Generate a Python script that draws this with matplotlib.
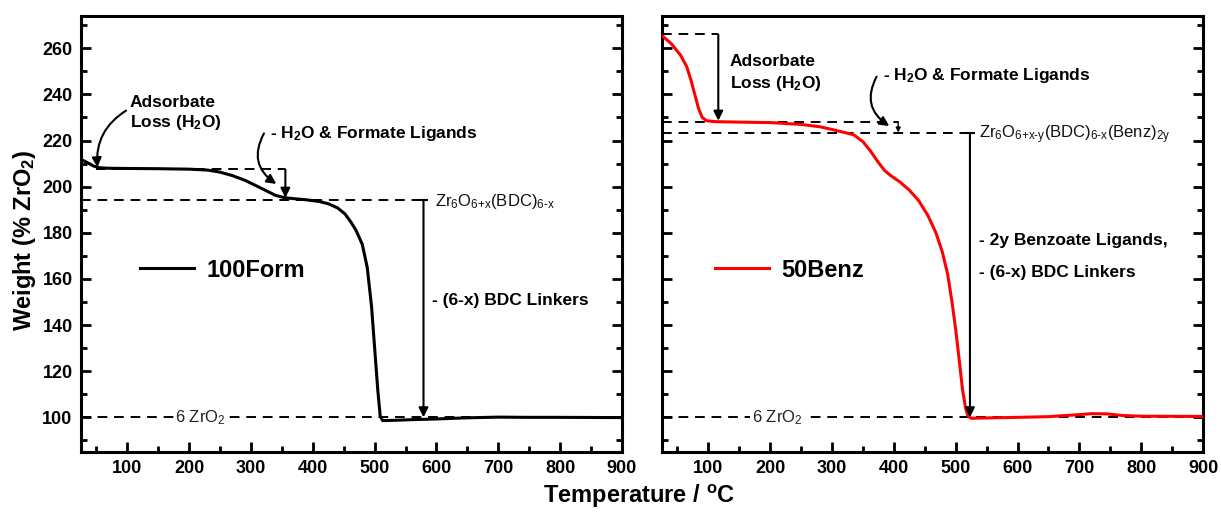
import matplotlib

matplotlib.use("Agg")
import matplotlib.pyplot as plt
from matplotlib.ticker import MultipleLocator

plt.rcParams["font.family"] = "Liberation Sans"
plt.rcParams["mathtext.default"] = "regular"
plt.rcParams["mathtext.fontset"] = "custom"
plt.rcParams["mathtext.rm"] = "Liberation Sans"

# 100Form TGA trace (temperature in C, weight in % ZrO2)
form_t = [25, 35, 45, 55, 70, 100, 150, 200, 230, 250, 270, 290, 310, 325, 340,
          355, 370, 390, 410, 425, 440, 452, 462, 470, 480, 488, 495, 500, 505,
          509, 513, 530, 560, 600, 650, 700, 750, 800, 900]
form_w = [211.8, 210.5, 209.0, 208.2, 208.0, 207.9, 207.8, 207.6, 207.2, 206.3,
          204.8, 202.8, 200.2, 198.2, 196.2, 195.2, 194.8, 194.3, 193.6, 192.6,
          190.8, 188.2, 184.5, 181.0, 175.0, 165.0, 148.0, 130.0, 112.0, 100.5,
          98.6, 98.7, 99.0, 99.3, 99.8, 100.1, 100.0, 100.0, 99.9]

# 50Benz TGA trace
benz_t = [25, 40, 55, 65, 72, 78, 84, 90, 97, 110, 150, 200, 250, 280, 300, 320,
          335, 350, 362, 375, 385, 395, 410, 425, 440, 455, 468, 478, 487, 494,
          500, 506, 511, 516, 520, 525, 540, 600, 650, 690, 720, 745, 770, 800, 900]
benz_w = [265.5, 262.0, 257.0, 252.0, 246.0, 240.0, 234.0, 230.0, 228.6, 228.2,
          228.0, 227.8, 227.0, 226.0, 224.8, 223.5, 222.5, 219.5, 215.5, 210.5,
          207.0, 204.8, 202.0, 198.5, 194.0, 187.5, 180.0, 172.0, 162.0, 150.0,
          138.0, 124.0, 112.0, 104.0, 100.5, 99.6, 99.7, 100.0, 100.3, 101.0,
          101.6, 101.5, 100.8, 100.5, 100.4]

XLIM = (25, 900)
YLIM = (85, 274)
ZRO2 = 100

DASH = dict(color="black", lw=1.4, ls=(0, (5, 3.5)))
ARROW = dict(arrowstyle="-|>", color="black", lw=1.5, mutation_scale=14,
             shrinkA=0, shrinkB=0)


def style_axes(ax, show_ylabels):
    ax.set_xlim(*XLIM)
    ax.set_ylim(*YLIM)
    ax.xaxis.set_major_locator(MultipleLocator(100))
    ax.xaxis.set_minor_locator(MultipleLocator(50))
    ax.yaxis.set_major_locator(MultipleLocator(20))
    ax.yaxis.set_minor_locator(MultipleLocator(10))
    ax.tick_params(which="both", direction="in", width=2, left=True, right=True,
                   top=False, bottom=True, labelleft=show_ylabels)
    ax.tick_params(which="major", length=7, labelsize=13, pad=6)
    ax.tick_params(which="minor", length=4)
    for lbl in ax.get_xticklabels() + ax.get_yticklabels():
        lbl.set_fontweight("bold")
    for sp in ax.spines.values():
        sp.set_linewidth(2.2)


fig = plt.figure(figsize=(12.21, 5.13), dpi=100)
ax1 = fig.add_axes([0.0663, 0.119, 0.4431, 0.8498])
ax2 = fig.add_axes([0.5422, 0.119, 0.4431, 0.8498])

# ---------------- left panel: 100Form ----------------
ax1.plot(form_t, form_w, color="black", lw=2.2, label="100Form")
style_axes(ax1, True)

ax1.plot([25, 900], [ZRO2, ZRO2], **DASH)
ax1.text(218, ZRO2, "6 ZrO$_2$", fontsize=12, ha="center", va="center",
         color="#222222", bbox=dict(fc="white", ec="none", pad=1))

ax1.plot([49, 355.6], [207.5, 207.5], **DASH)
ax1.annotate("", xy=(355.6, 195.2), xytext=(355.6, 207.5), arrowprops=ARROW)
ax1.plot([25, 572], [194.2, 194.2], **DASH)
ax1.annotate("", xy=(579, ZRO2), xytext=(579, 194.2), arrowprops=ARROW)
ax1.plot([579], [194.2], marker="_", ms=7, mew=1.5, color="black")

ax1.text(104, 236.7, "Adsorbate", fontsize=12.5, fontweight="bold", va="center")
ax1.text(104, 228.0, "Loss (H$_2$O)", fontsize=12.5, fontweight="bold", va="center")
ax1.annotate("", xy=(51.7, 208.4), xytext=(98, 233),
             arrowprops=dict(ARROW, connectionstyle="arc3,rad=0.3"))
ax1.text(330, 223.1, "- H$_2$O & Formate Ligands", fontsize=12.5,
         fontweight="bold", va="center")
ax1.annotate("", xy=(341, 201.2), xytext=(321, 223.1),
             arrowprops=dict(ARROW, connectionstyle="arc3,rad=0.45"))
ax1.text(598, 193.5, r"Zr$_6$O$_{\text{6+x}}$(BDC)$_{\text{6-x}}$", fontsize=12,
         va="center", color="#111111")
ax1.text(592, 150.8, "- (6-x) BDC Linkers", fontsize=12.5, fontweight="bold",
         va="center")
ax1.legend(loc="center left", bbox_to_anchor=(0.109, 0.417), frameon=False,
           borderaxespad=0, borderpad=0, handlelength=2.3, handletextpad=0.5,
           prop=dict(size=17, weight="bold"))

# ---------------- right panel: 50Benz ----------------
ax2.plot(benz_t, benz_w, color="red", lw=2.2, label="50Benz", zorder=3)
style_axes(ax2, False)

ax2.plot([25, 900], [ZRO2, ZRO2], **DASH)
ax2.text(211, ZRO2, "6 ZrO$_2$", fontsize=12, ha="center", va="center",
         color="#222222", bbox=dict(fc="white", ec="none", pad=1))

ax2.plot([25, 116], [266, 266], **DASH)
ax2.annotate("", xy=(116, 228.6), xytext=(116, 266), arrowprops=ARROW)
ax2.plot([25, 407], [228.2, 228.2], **DASH)
ax2.annotate("", xy=(407, 223.5), xytext=(407, 228.2),
             arrowprops=dict(ARROW, mutation_scale=7, lw=1.0))
ax2.plot([25, 520], [223.2, 223.2], **DASH)
ax2.annotate("", xy=(523, ZRO2), xytext=(523, 223.2), arrowprops=ARROW)
ax2.plot([523], [223.2], marker="_", ms=7, mew=1.5, color="black")

ax2.text(135, 254.2, "Adsorbate", fontsize=12.5, fontweight="bold", va="center")
ax2.text(135, 244.8, "Loss (H$_2$O)", fontsize=12.5, fontweight="bold", va="center")
ax2.text(383, 248.4, "- H$_2$O & Formate Ligands", fontsize=12.5,
         fontweight="bold", va="center")
ax2.annotate("", xy=(392.5, 226.3), xytext=(372, 247.7),
             arrowprops=dict(ARROW, connectionstyle="arc3,rad=0.45"))
ax2.text(537, 222.5,
         r"Zr$_6$O$_{\text{6+x-y}}$(BDC)$_{\text{6-x}}$(Benz)$_{\text{2y}}$",
         fontsize=12, va="center", color="#111111")
ax2.text(537, 176.8, "- 2y Benzoate Ligands,", fontsize=12.5, fontweight="bold",
         va="center")
ax2.text(537, 163.0, "- (6-x) BDC Linkers", fontsize=12.5, fontweight="bold",
         va="center")
ax2.legend(loc="center left", bbox_to_anchor=(0.098, 0.417), frameon=False,
           borderaxespad=0, borderpad=0, handlelength=2.3, handletextpad=0.5,
           prop=dict(size=17, weight="bold"))

fig.text(25 / 1221, 1 - 240 / 513, "Weight (% ZrO$_2$)", rotation=90,
         fontsize=17, fontweight="bold", ha="center", va="center")
fig.text(639 / 1221, 1 - 496 / 513, "Temperature / $^{o}$C", fontsize=17,
         fontweight="bold", ha="center", va="center")

fig.savefig("out.png", dpi=100)
